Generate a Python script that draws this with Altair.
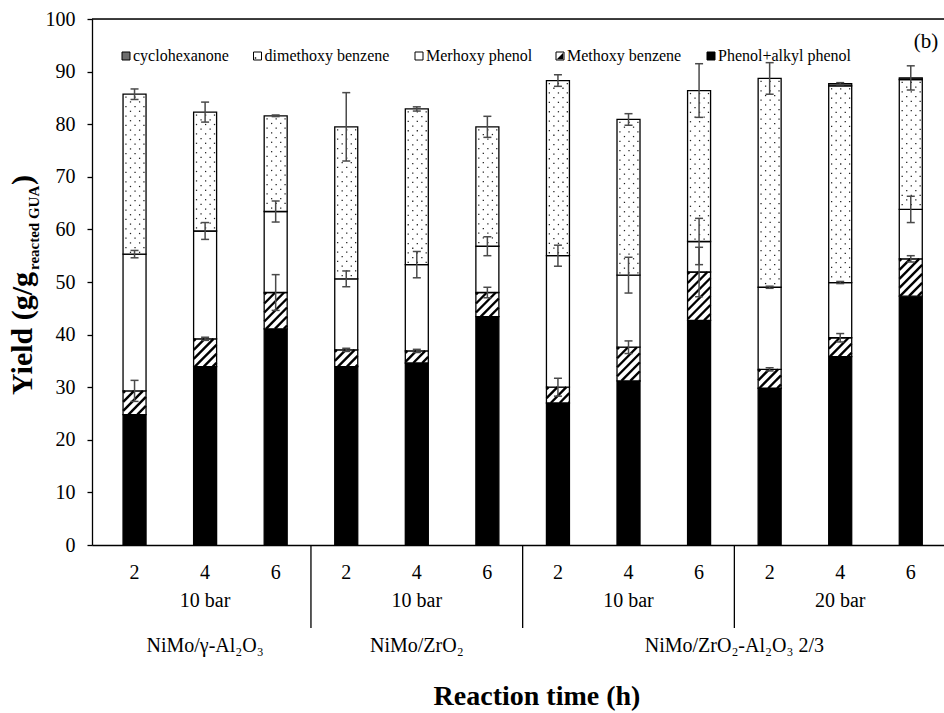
import altair as alt
import numpy as np
import pandas as pd

# ---------------- data ----------------
reaction_time = ["2", "4", "6", "2", "4", "6", "2", "4", "6", "2", "4", "6"]
pressure_groups = ["10 bar", "10 bar", "10 bar", "20 bar"]
pressure_of_bar = [0, 0, 0, 1, 1, 1, 2, 2, 2, 3, 3, 3]
catalyst_groups = ["NiMo/γ-Al₂O₃", "NiMo/ZrO₂", "NiMo/ZrO₂-Al₂O₃ 2/3"]
catalyst_of_bar = [0, 0, 0, 1, 1, 1, 2, 2, 2, 2, 2, 2]

# stacking order bottom -> top
series_names = ["Phenol+alkyl phenol", "Methoxy benzene", "Merhoxy phenol",
                "dimethoxy benzene", "cyclohexanone"]
phenol_alkyl_phenol = [24.8, 33.9, 41.1, 33.9, 34.6, 43.4, 27.0, 31.2, 42.7, 29.8, 35.8, 47.3]
methoxy_benzene = [4.5, 5.3, 6.9, 3.2, 2.3, 4.6, 3.0, 6.4, 9.2, 3.6, 3.6, 7.1]
merhoxy_phenol = [26.0, 20.5, 15.4, 13.5, 16.4, 8.8, 25.0, 13.7, 5.8, 15.6, 10.5, 9.4]
dimethoxy_benzene = [30.4, 22.6, 18.2, 28.9, 29.6, 22.7, 33.3, 29.6, 28.7, 39.7, 37.4, 24.7]
cyclohexanone = [0, 0, 0, 0, 0, 0, 0, 0, 0, 0, 0.4, 0.3]

err_methoxy_benzene = [2.0, 0.3, 3.4, 0.3, 0.3, 1.0, 1.7, 1.2, 4.7, 0.3, 0.8, 0.6]
err_merhoxy_phenol = [0.7, 1.6, 2.0, 1.5, 2.5, 1.8, 2.0, 3.4, 4.4, 0.2, 0.2, 2.5]
err_total = [1.0, 1.9, 0.15, 6.5, 0.4, 2.0, 1.1, 1.1, 5.1, 3.0, 0.2, 2.3]

legend_order = ["cyclohexanone", "dimethoxy benzene", "Merhoxy phenol",
                "Methoxy benzene", "Phenol+alkyl phenol"]
y_ticks = [0, 10, 20, 30, 40, 50, 60, 70, 80, 90, 100]

# ---------------- layout constants ----------------
W, H = 852, 526
X0, X1 = 0.468, 12.4
PX_X = W / (X1 - X0)          # pixels per x unit
PX_Y = H / 100.0              # pixels per y unit
BAR_W = 23
FONT = "Liberation Serif"

xs = alt.Scale(domain=[X0, X1], nice=False, zero=False)
ys = alt.Scale(domain=[0, 100], nice=False, zero=True)


def X(field):
    return alt.X(field, scale=xs, title=None)


def Y(field):
    return alt.Y(field, scale=ys, title=None)


pos = list(range(1, 13))
series = [phenol_alkyl_phenol, methoxy_benzene, merhoxy_phenol, dimethoxy_benzene, cyclohexanone]

rows = []
for i, p in enumerate(pos):
    lo = 0.0
    for name, vals in zip(series_names, series):
        v = vals[i]
        if v > 0:
            rows.append(dict(pos=p, component=name, lo=lo, hi=lo + v))
        lo += v
seg = pd.DataFrame(rows)

fill_scale = alt.Scale(domain=series_names,
                       range=["black", "white", "white", "white", "#6e6e6e"])

bars = alt.Chart(seg).mark_bar(size=BAR_W, stroke="black", strokeWidth=1.3).encode(
    x=alt.X("pos:Q", scale=xs, title=None,
            axis=alt.Axis(labels=False, ticks=False, grid=False,
                          domainColor="black", domainWidth=1.3)),
    y=alt.Y("lo:Q", scale=ys, title=None,
            axis=alt.Axis(values=y_ticks, grid=False, domainColor="black",
                          domainWidth=1.3, tickColor="black", tickSize=5, tickWidth=1.3,
                          labelFont=FONT, labelFontSize=20, labelColor="black",
                          labelPadding=12)),
    y2="hi:Q",
    fill=alt.Fill("component:N", scale=fill_scale, legend=None),
)

# ---- hatch texture for Methoxy benzene ----
hrows = []
mb = seg[seg.component == "Methoxy benzene"]
for _, r in mb.iterrows():
    hp = (r.hi - r.lo) * PX_Y
    left = r.pos - BAR_W / 2 / PX_X
    for c in np.arange(-hp + 2, BAR_W, 9.0):
        u0, u1 = max(0.0, c), min(BAR_W, hp + c)
        if u1 - u0 < 0.5:
            continue
        hrows.append(dict(x1=left + u0 / PX_X, x2=left + u1 / PX_X,
                          y1=r.lo + (u0 - c) / PX_Y, y2=r.lo + (u1 - c) / PX_Y))
hatch_df = pd.DataFrame(hrows)
hatch = alt.Chart(hatch_df).mark_rule(color="black", strokeWidth=2.4).encode(
    x=X("x1:Q"), x2="x2:Q", y=Y("y1:Q"), y2="y2:Q")

# ---- dot texture for dimethoxy benzene ----
drows = []
db = seg[seg.component == "dimethoxy benzene"]
for _, r in db.iterrows():
    hp = (r.hi - r.lo) * PX_Y
    left = r.pos - BAR_W / 2 / PX_X
    k = 0
    v = 3.0
    while v < hp - 1.5:
        us = [2.8, 12.0, 21.0] if k % 2 == 0 else [7.4, 16.6]
        for u in us:
            drows.append(dict(x=left + u / PX_X, y=r.hi - v / PX_Y))
        v += 4.7
        k += 1
dots_df = pd.DataFrame(drows)
dots = alt.Chart(dots_df).mark_square(size=1.6, color="#222222", opacity=1).encode(
    x=X("x:Q"), y=Y("y:Q"))

# ---- error bars ----
erows = []
for i, p in enumerate(pos):
    t1 = phenol_alkyl_phenol[i] + methoxy_benzene[i]
    t2 = t1 + merhoxy_phenol[i]
    t3 = t2 + dimethoxy_benzene[i] + cyclohexanone[i]
    for c, e in [(t1, err_methoxy_benzene[i]), (t2, err_merhoxy_phenol[i]), (t3, err_total[i])]:
        erows.append(dict(pos=p, low=c - e, high=c + e))
err_df = pd.DataFrame(erows)
ecol = "#4a4a4a"
err_v = alt.Chart(err_df).mark_rule(color=ecol, strokeWidth=1.5).encode(
    x=X("pos:Q"), y=Y("low:Q"), y2="high:Q")
cap_lo = alt.Chart(err_df).mark_rule(color=ecol, strokeWidth=1.5, xOffset=-4, x2Offset=4).encode(
    x=X("pos:Q"), x2="pos:Q", y=Y("low:Q"))
cap_hi = alt.Chart(err_df).mark_rule(color=ecol, strokeWidth=1.5, xOffset=-4, x2Offset=4).encode(
    x=X("pos:Q"), x2="pos:Q", y=Y("high:Q"))

# ---- top frame line ----
top_line = alt.Chart(pd.DataFrame({"yv": [100]})).mark_rule(color="black", strokeWidth=1.3).encode(
    y=Y("yv:Q"))

# ---- group separators below the axis ----
sep_df = pd.DataFrame({"sep": [3.5, 6.5, 9.5]})
seps = alt.Chart(sep_df).mark_rule(color="black", strokeWidth=1.3).encode(
    x=X("sep:Q"), y=alt.value(H), y2=alt.value(609))

# ---- category labels ----
time_df = pd.DataFrame({"pos": pos, "t": reaction_time})
time_lbl = alt.Chart(time_df).mark_text(font=FONT, fontSize=20, color="black",
                                        baseline="middle").encode(
    x=X("pos:Q"), y=alt.value(554), text="t:N")

pr_df = pd.DataFrame({"pos": pos, "g": pressure_of_bar}).groupby("g", as_index=False)["pos"].mean()
pr_df["label"] = [pressure_groups[g] for g in pr_df["g"]]
pr_lbl = alt.Chart(pr_df).mark_text(font=FONT, fontSize=20, color="black",
                                    baseline="middle").encode(
    x=X("pos:Q"), y=alt.value(582), text="label:N")

ca_df = pd.DataFrame({"pos": pos, "g": catalyst_of_bar}).groupby("g", as_index=False)["pos"].mean()
ca_df["label"] = [catalyst_groups[g] for g in ca_df["g"]]
ca_lbl = alt.Chart(ca_df).mark_text(font=FONT, fontSize=20, color="black",
                                    baseline="middle").encode(
    x=X("pos:Q"), y=alt.value(627), text="label:N")

one = pd.DataFrame({"a": [0]})


def text_at(txt, x, y, size, bold=False, angle=0, align="center", baseline="middle"):
    kw = dict(text=txt, font=FONT, fontSize=size, color="black", align=align,
              baseline=baseline, fontWeight="bold" if bold else "normal")
    if angle:
        kw["angle"] = angle
    return alt.Chart(one).mark_text(**kw).encode(x=alt.value(x), y=alt.value(y))


x_title = text_at("Reaction time (h)", 445, 678, 28, bold=True)
y_main = text_at("Yield (g/g", -60, 376, 30, bold=True, angle=270, align="left",
                 baseline="alphabetic")
y_sub = text_at("reacted GUA", -53, 251, 15, bold=True, angle=270, align="left",
                baseline="alphabetic")
y_close = text_at(")", -60, 166, 30, bold=True, angle=270, align="left",
                  baseline="alphabetic")
panel = text_at("(b)", 834, 23, 21)

# ---- legend ----
leg_sym_x = [34, 165.5, 327, 468, 619]
leg_y = 37
leg_layers = []
sym_fill = {"cyclohexanone": "#6e6e6e", "dimethoxy benzene": "white",
            "Merhoxy phenol": "white", "Methoxy benzene": "white",
            "Phenol+alkyl phenol": "black"}
for name, sx in zip(legend_order, leg_sym_x):
    leg_layers.append(alt.Chart(one).mark_square(size=64, fill=sym_fill[name], stroke="black",
                                                 strokeWidth=1, opacity=1).encode(
        x=alt.value(sx), y=alt.value(leg_y)))
    if name == "Methoxy benzene":
        leg_layers.append(alt.Chart(one).mark_point(shape="M1,-1L1,1L-1,1Z", size=40,
                                                    fill="black", filled=True, opacity=1,
                                                    strokeWidth=0).encode(
            x=alt.value(sx), y=alt.value(leg_y)))
    if name == "dimethoxy benzene":
        leg_layers.append(alt.Chart(one).mark_square(size=2, color="black", opacity=1).encode(
            x=alt.value(sx - 2), y=alt.value(leg_y + 2)))
    leg_layers.append(alt.Chart(one).mark_text(text=name, font=FONT, fontSize=16, color="black",
                                               align="left", baseline="middle").encode(
        x=alt.value(sx + 7), y=alt.value(leg_y)))

chart = alt.layer(
    bars, hatch, dots, err_v, cap_lo, cap_hi, top_line, seps,
    time_lbl, pr_lbl, ca_lbl, x_title, y_main, y_sub, y_close, panel, *leg_layers
).properties(
    width=W, height=H,
    autosize=alt.AutoSizeParams(type="none"),
    padding={"left": 92, "top": 19, "right": 0, "bottom": 168},
).configure_view(stroke=None).configure(background="white")

chart.save("out.html", embed_options={"renderer": "svg", "actions": False})
